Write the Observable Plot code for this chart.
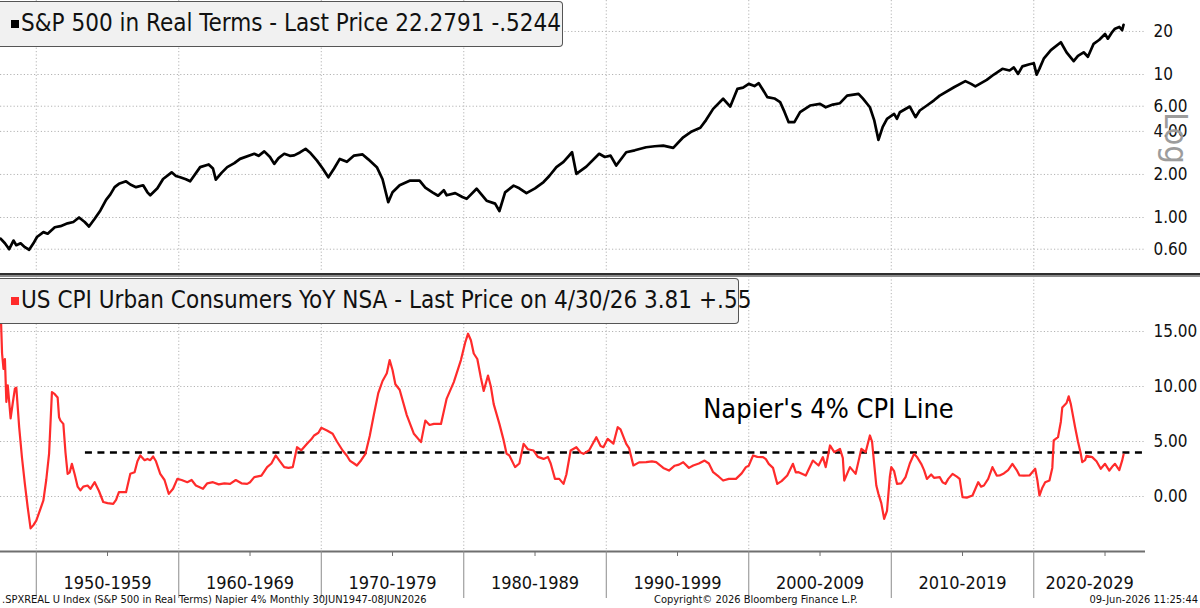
<!DOCTYPE html>
<html>
<head>
<meta charset="utf-8">
<script src="https://cdn.jsdelivr.net/npm/d3@7"></script>
<script src="https://cdn.jsdelivr.net/npm/@observablehq/plot@0.6"></script>
<style>
  html, body { margin: 0; padding: 0; background: #fff; }
  #root { position: relative; width: 1200px; height: 608px; overflow: hidden; background: #fff;
          font-family: "DejaVu Sans Condensed", "DejaVu Sans", sans-serif; }
  .panel { position: absolute; left: 0; }
  .legend { position: absolute; left: 0; box-sizing: border-box; background: #f1f1f1;
            border: 1.5px solid #555; border-left: none; border-radius: 0 4px 4px 0;
            font-size: 24px; color: #111; white-space: nowrap; padding-left: 11px; }
  .legend .sq { display: inline-block; width: 8px; height: 8px; margin-right: 2px; vertical-align: 3px; }
  .foot { position: absolute; top: 593px; font-size: 11px; color: #111; white-space: nowrap; }
</style>
</head>
<body>
<div id="root"></div>
<script>
(function () {
// ---------- data ----------
const decadeStarts = [1950, 1960, 1970, 1980, 1990, 2000, 2010, 2020];
const decadeLabels = ["1950-1959", "1960-1969", "1970-1979", "1980-1989", "1990-1999", "2000-2009", "2010-2019", "2020-2029"];
const xStart = 1947.49, xEnd = 2027.84;

const spxTicks = [0.6, 1, 2, 4, 6, 10, 20];
const spxTickLabels = ["0.60", "1.00", "2.00", "4.00", "6.00", "10", "20"];
const cpiTicks = [0, 5, 10, 15];
const cpiTickLabels = ["0.00", "5.00", "10.00", "15.00"];
const napierLevel = 4;
const napierStart = 1953.45;
const annotationText = "Napier's 4% CPI Line";
const annotationYear = 1996.8;
const annotationValue = 7.9;

const spxYears = [1947.5,1947.8,1948.1,1948.4,1948.6,1948.9,1949.2,1949.5,1949.8,1950.05,1950.5,1950.8,1951.3,1951.7,1952.2,1952.6,1953.0,1953.4,1953.7,1954.1,1954.5,1954.9,1955.2,1955.5,1955.8,1956.3,1956.6,1957.0,1957.5,1957.8,1958.0,1958.5,1958.9,1959.5,1959.8,1960.1,1960.5,1960.8,1961.5,1962.1,1962.4,1962.6,1963.0,1963.4,1963.9,1964.3,1965.3,1965.6,1966.0,1966.4,1966.7,1967.0,1967.4,1967.8,1968.1,1968.5,1968.9,1969.2,1969.7,1970.1,1970.5,1970.9,1971.3,1971.8,1972.3,1972.9,1973.3,1973.9,1974.3,1974.7,1975.0,1975.5,1976.2,1976.9,1977.3,1977.8,1978.2,1978.6,1978.8,1979.4,1979.9,1980.2,1980.9,1981.6,1982.2,1982.5,1982.9,1983.5,1983.9,1984.4,1985.0,1985.6,1986.0,1986.5,1987.0,1987.6,1987.9,1988.6,1989.5,1989.9,1990.3,1990.7,1991.4,1992.0,1992.8,1993.4,1994.0,1994.7,1995.4,1996.0,1996.6,1997.0,1997.5,1998.2,1998.7,1999.2,1999.6,2000.0,2000.4,2000.7,2001.0,2001.3,2001.8,2002.2,2002.5,2002.8,2003.2,2003.6,2004.3,2005.0,2005.4,2005.9,2006.4,2006.9,2007.7,2008.0,2008.5,2008.8,2009.1,2009.4,2009.7,2010.2,2010.4,2010.6,2011.3,2011.7,2012.0,2012.5,2013.0,2013.4,2014.4,2015.2,2015.6,2015.9,2016.3,2016.7,2017.2,2017.8,2018.3,2018.6,2018.9,2019.2,2019.7,2020.0,2020.2,2020.4,2020.7,2021.2,2021.9,2022.3,2022.8,2023.1,2023.5,2023.8,2024.2,2024.6,2025.0,2025.2,2025.5,2025.7,2026.0,2026.2,2026.3];
const spxValues = [0.71,0.66,0.60,0.69,0.64,0.66,0.62,0.595,0.66,0.73,0.79,0.77,0.855,0.87,0.91,0.93,1.00,0.93,0.865,0.98,1.12,1.33,1.45,1.63,1.72,1.79,1.70,1.63,1.68,1.50,1.43,1.60,1.86,2.07,1.95,1.91,1.85,1.79,2.25,2.35,2.20,1.84,2.05,2.25,2.40,2.57,2.79,2.70,2.90,2.65,2.37,2.60,2.79,2.70,2.72,2.85,3.02,2.85,2.50,2.20,1.91,2.20,2.57,2.45,2.71,2.76,2.55,2.25,1.85,1.28,1.50,1.68,1.81,1.81,1.62,1.50,1.42,1.55,1.43,1.48,1.39,1.35,1.59,1.31,1.25,1.11,1.50,1.67,1.60,1.48,1.60,1.77,1.95,2.25,2.45,2.86,2.02,2.27,2.79,2.65,2.71,2.31,2.86,2.95,3.10,3.15,3.18,3.07,3.64,4.00,4.24,4.80,5.75,6.77,5.97,7.93,8.10,8.60,8.30,8.70,7.80,6.95,6.80,6.41,5.50,4.64,4.64,5.45,6.07,6.24,5.90,6.16,6.30,7.12,7.33,6.80,5.90,4.80,3.49,4.30,4.90,5.30,4.90,5.45,5.97,5.03,5.60,6.07,6.60,7.12,8.15,8.99,8.60,8.25,8.70,9.18,10.0,10.97,10.67,11.2,10.1,11.4,11.8,12.0,9.98,11.0,12.9,14.8,16.8,14.3,12.4,13.5,14.3,13.3,16.4,17.5,19.2,17.8,19.8,20.9,21.5,20.4,22.28];

const cpiYears = [1947.5,1947.6,1947.7,1947.8,1947.9,1948.0,1948.2,1948.35,1948.5,1948.6,1948.8,1949.0,1949.2,1949.4,1949.6,1949.8,1950.0,1950.3,1950.5,1950.7,1950.9,1951.1,1951.3,1951.5,1951.6,1951.7,1951.9,1952.05,1952.2,1952.35,1952.5,1952.7,1952.9,1953.1,1953.3,1953.6,1953.8,1954.1,1954.4,1954.7,1955.0,1955.4,1955.6,1955.8,1956.3,1956.6,1956.9,1957.1,1957.3,1957.6,1957.8,1958.0,1958.2,1958.4,1958.7,1959.0,1959.3,1959.6,1959.9,1960.2,1960.6,1960.9,1961.2,1961.7,1962.0,1962.4,1962.8,1963.2,1963.6,1964.0,1964.4,1964.8,1965.0,1965.3,1965.8,1966.2,1966.5,1966.8,1967.1,1967.4,1967.7,1968.0,1968.3,1968.6,1969.0,1969.3,1969.5,1969.8,1970.0,1970.4,1970.8,1971.1,1971.5,1971.8,1972.0,1972.3,1972.5,1972.8,1973.1,1973.4,1973.7,1974.0,1974.3,1974.6,1974.8,1975.0,1975.2,1975.5,1976.0,1976.5,1977.0,1977.3,1977.6,1977.9,1978.4,1978.8,1979.3,1979.8,1980.1,1980.3,1980.5,1980.7,1980.95,1981.2,1981.4,1981.7,1981.9,1982.1,1982.5,1982.8,1983.0,1983.2,1983.6,1983.9,1984.2,1984.5,1984.9,1985.2,1985.6,1985.9,1986.1,1986.4,1986.7,1987.0,1987.2,1987.5,1987.9,1988.2,1988.4,1988.8,1989.3,1989.6,1989.8,1990.1,1990.5,1990.8,1991.0,1991.4,1991.6,1991.9,1992.3,1992.8,1993.2,1993.5,1994.0,1994.4,1994.8,1995.1,1995.4,1995.8,1996.1,1996.5,1996.9,1997.2,1997.5,1997.9,1998.2,1998.6,1999.1,1999.5,1999.8,2000.0,2000.3,2000.6,2001.0,2001.2,2001.4,2001.7,2002.0,2002.3,2002.7,2003.1,2003.3,2003.5,2004.0,2004.5,2004.9,2005.2,2005.4,2005.7,2006.0,2006.4,2006.6,2006.7,2007.1,2007.5,2007.9,2008.2,2008.5,2008.65,2008.8,2008.95,2009.1,2009.3,2009.5,2009.7,2009.9,2010.0,2010.2,2010.4,2010.7,2011.0,2011.3,2011.6,2011.8,2012.1,2012.3,2012.5,2012.8,2013.0,2013.4,2013.6,2013.8,2014.0,2014.3,2014.6,2014.8,2015.0,2015.3,2015.7,2016.1,2016.3,2016.5,2016.8,2017.1,2017.4,2017.6,2017.9,2018.2,2018.5,2018.8,2019.0,2019.3,2019.7,2020.1,2020.25,2020.4,2020.6,2020.8,2021.1,2021.3,2021.4,2021.7,2021.9,2022.0,2022.3,2022.45,2022.6,2022.9,2023.1,2023.3,2023.4,2023.6,2023.7,2024.1,2024.4,2024.7,2025.0,2025.3,2025.5,2025.7,2026.0,2026.2,2026.3];
const cpiValues = [17.0,13.0,11.6,12.5,8.6,10.1,7.1,8.5,9.8,9.9,6.3,3.5,1.15,-1.0,-2.9,-2.6,-2.2,-1.1,-0.36,1.5,3.9,9.5,9.3,9.0,7.2,6.9,6.6,4.0,2.06,2.2,2.97,2.0,0.9,0.55,0.9,1.0,0.7,1.3,0.5,-0.5,-0.6,-0.67,-0.3,0.39,0.39,2.06,2.2,3.2,3.73,3.3,3.42,3.3,3.64,3.2,2.06,1.5,0.24,0.7,1.6,1.5,1.3,1.5,1.0,0.7,1.2,1.3,1.1,1.2,1.15,1.5,1.2,1.15,1.3,1.76,1.9,2.67,3.0,3.73,3.2,2.67,2.6,2.67,4.48,4.2,4.79,5.2,5.55,5.8,6.24,6.0,5.7,5.0,4.18,3.7,3.27,3.0,2.82,3.3,3.88,5.5,7.5,9.4,10.5,11.2,12.4,11.5,10.2,9.7,7.4,5.7,4.94,6.9,6.5,6.6,6.6,8.9,10.4,12.4,14.0,14.8,14.2,13.0,12.5,10.8,9.6,11.0,10.0,8.4,6.6,5.1,3.9,3.73,2.67,3.0,4.79,4.3,4.18,3.6,3.42,3.6,3.0,1.6,1.6,1.15,2.0,4.18,4.48,4.0,3.88,4.2,5.39,4.6,4.48,5.24,4.8,6.3,6.1,4.79,4.4,2.82,3.1,3.12,3.2,3.12,2.6,2.36,2.8,2.9,3.12,2.6,2.82,3.0,3.27,3.0,2.21,1.8,1.45,1.6,1.6,2.1,2.67,2.8,3.73,3.6,3.58,3.4,2.97,2.6,1.15,1.4,1.91,2.97,2.2,2.21,1.91,3.27,2.82,3.58,2.67,4.64,4.03,4.33,3.5,1.45,2.67,2.06,4.33,4.03,5.55,5.0,2.97,1.0,0.24,-0.6,-2.03,-1.3,1.8,2.67,2.3,1.15,1.2,1.76,3.0,3.88,3.6,2.97,2.4,1.6,2.0,1.7,1.76,1.3,1.15,1.6,2.06,1.8,1.6,-0.06,-0.1,0.09,1.3,0.9,1.0,1.6,2.67,1.9,1.91,2.1,2.4,2.97,2.4,1.91,1.9,1.91,2.52,1.5,0.09,0.8,1.3,1.45,2.6,5.1,5.39,6.8,8.1,8.5,9.1,8.4,6.3,5.0,3.88,3.12,3.3,3.7,3.58,3.2,2.52,2.97,2.36,2.7,2.97,2.4,3.26,3.81];

const spx = spxYears.map((t, i) => ({t, v: spxValues[i]}));
const cpi = cpiYears.map((t, i) => ({t, v: cpiValues[i]}));
const labelPos = decadeStarts.map(s => (s + Math.min(s + 10, xEnd)) / 2);
const minorTicks = decadeStarts.map(s => s + 5).filter(t => t < xEnd);

// ---------- drawing ----------
const FONT = '"DejaVu Sans Condensed", "DejaVu Sans", sans-serif';
const grid = {stroke: "#b4b4b4", strokeWidth: 1, strokeDasharray: "1.2,2.2"};
const root = document.getElementById("root");

const topChart = Plot.plot({
  width: 1200, height: 272,
  marginLeft: 0, marginRight: 55, marginTop: 0, marginBottom: 0,
  style: {fontFamily: FONT, fontSize: "17px", background: "transparent", overflow: "visible", color: "#111"},
  x: {domain: [xStart, xEnd], axis: null, label: null},
  y: {type: "log", domain: [0.4124, 32.93], axis: null, label: null},
  marks: [
    Plot.ruleY(spxTicks, grid),
    Plot.ruleX(decadeStarts, grid),
    Plot.line(spx, {x: "t", y: "v", stroke: "#000", strokeWidth: 2.7, strokeLinejoin: "round"}),
    Plot.text(spxTicks, {y: d => d, frameAnchor: "right", dx: 8, textAnchor: "start",
      text: (d, i) => spxTickLabels[i], fontSize: 17, fill: "#111"})
  ]
});
topChart.classList.add("panel");
topChart.style.top = "0px";
root.appendChild(topChart);

const bottomChart = Plot.plot({
  width: 1200, height: 332,
  marginLeft: 0, marginRight: 55, marginTop: 0, marginBottom: 57,
  style: {fontFamily: FONT, fontSize: "17px", background: "transparent", overflow: "visible", color: "#111"},
  x: {domain: [xStart, xEnd], axis: null, label: null},
  y: {domain: [-5, 20], axis: null, label: null},
  marks: [
    Plot.ruleY(cpiTicks, grid),
    Plot.ruleX(decadeStarts, grid),
    Plot.ruleY([napierLevel], {x1: napierStart, x2: xEnd, stroke: "#000", strokeWidth: 2.4, strokeDasharray: "7,5.5"}),
    Plot.line(cpi, {x: "t", y: "v", stroke: "#ff2b2b", strokeWidth: 2.2, strokeLinejoin: "round"}),
    Plot.text([annotationText], {x: annotationYear, y: annotationValue, text: d => d, textAnchor: "start",
      fontSize: 27, fill: "#000", fontFamily: FONT}),
    Plot.ruleY([-5], {stroke: "#6f6f6f", strokeWidth: 2}),
    Plot.axisX(decadeStarts, {anchor: "bottom", tickSize: 47, tickFormat: () => "", stroke: "#8c8c8c", label: null}),
    Plot.axisX(minorTicks, {anchor: "bottom", tickSize: 5, tickFormat: () => "", stroke: "#6f6f6f", label: null}),
    Plot.axisX(labelPos, {anchor: "bottom", tickSize: 0, tickPadding: 25, label: null, fontSize: 18, fill: "#111",
      tickFormat: d => decadeLabels[labelPos.indexOf(d)]}),
    Plot.text(cpiTicks, {y: d => d, frameAnchor: "right", dx: 8, textAnchor: "start",
      text: (d, i) => cpiTickLabels[i], fontSize: 17, fill: "#111"})
  ]
});
bottomChart.classList.add("panel");
bottomChart.style.top = "276px";
root.appendChild(bottomChart);

// separator between panels
const sep1 = document.createElement("div");
sep1.style.cssText = "position:absolute;left:0;top:273px;width:1200px;height:2px;background:#2e2e2e;";
root.appendChild(sep1);
const sep2 = document.createElement("div");
sep2.style.cssText = "position:absolute;left:0;top:275px;width:1200px;height:2px;background:#8a8a8a;";
root.appendChild(sep2);

// legends
function legend(topPx, width, color, text) {
  const d = document.createElement("div");
  d.className = "legend";
  d.style.top = topPx + "px";
  d.style.width = width + "px";
  d.style.height = "46px";
  d.style.lineHeight = "43px";
  const sq = document.createElement("span");
  sq.className = "sq";
  sq.style.background = color;
  d.appendChild(sq);
  d.appendChild(document.createTextNode(text));
  root.appendChild(d);
}
legend(1, 563, "#000", "S&P 500 in Real Terms - Last Price 22.2791 -.5244");
legend(278, 739, "#ff2b2b", "US CPI Urban Consumers YoY NSA - Last Price on 4/30/26 3.81 +.55");

// "Log" marker
const lg = document.createElement("div");
lg.textContent = "Log";
lg.style.cssText = "position:absolute;left:1176px;top:138px;transform:translate(-50%,-50%) rotate(90deg);font-size:32px;color:#9c9c9c;line-height:1;";
root.appendChild(lg);

// footer
const f1 = document.createElement("div");
f1.className = "foot"; f1.style.left = "2px";
f1.textContent = ".SPXREAL U Index (S&P 500 in Real Terms) Napier 4% Monthly 30JUN1947-08JUN2026";
root.appendChild(f1);
const f2 = document.createElement("div");
f2.className = "foot"; f2.style.left = "654px";
f2.textContent = "Copyright\u00A9 2026 Bloomberg Finance L.P.";
root.appendChild(f2);
const f3 = document.createElement("div");
f3.className = "foot"; f3.style.right = "2px";
f3.textContent = "09-Jun-2026 11:25:44";
root.appendChild(f3);
})();
</script>
</body>
</html>
